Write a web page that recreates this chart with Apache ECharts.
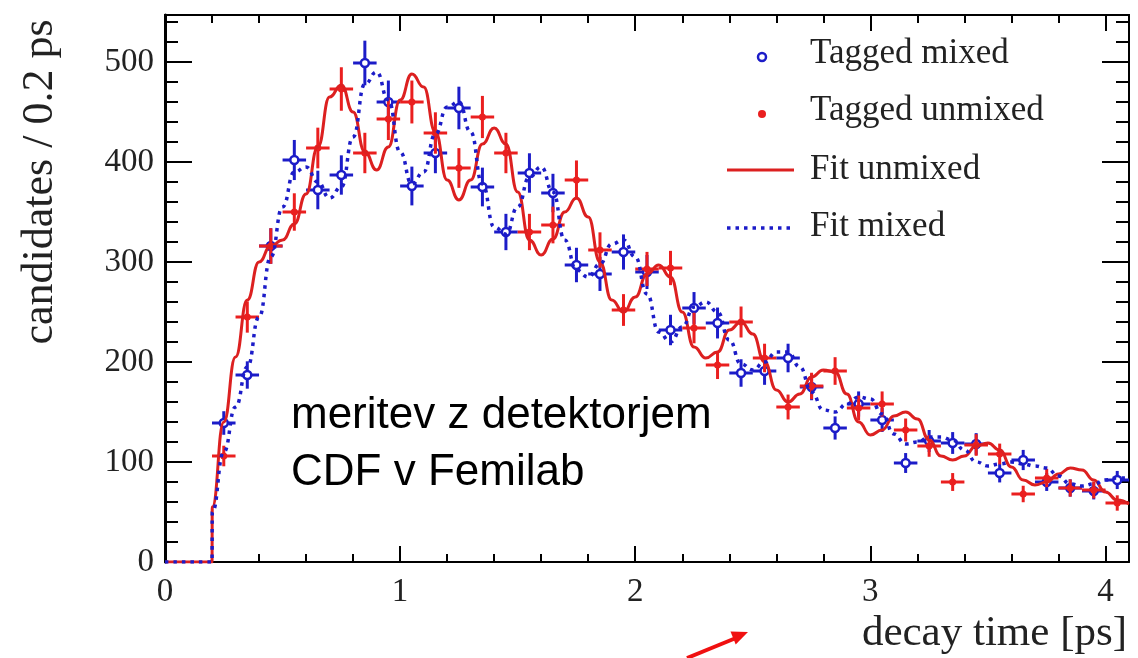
<!DOCTYPE html>
<html>
<head>
<meta charset="utf-8">
<title>decay time</title>
<script src="https://cdn.jsdelivr.net/npm/echarts@6/dist/echarts.min.js"></script>
<style>
  html, body { margin: 0; padding: 0; background: #fff; }
  #chart { width: 1138px; height: 658px; }
</style>
</head>
<body>
<div id="chart"></div>
<script>
// bin centres [ps], bins of 0.1 ps
var binCenters = [0.25, 0.35, 0.45, 0.55, 0.65, 0.75, 0.85, 0.95, 1.05, 1.15,
  1.25, 1.35, 1.45, 1.55, 1.65, 1.75, 1.85, 1.95, 2.05, 2.15,
  2.25, 2.35, 2.45, 2.55, 2.65, 2.75, 2.85, 2.95, 3.05, 3.15,
  3.25, 3.35, 3.45, 3.55, 3.65, 3.75, 3.85, 3.95, 4.05]

// Tagged mixed (blue open points)
var taggedMixed = [139, 187, 316, 402, 372, 387, 499, 460, 376, 409,
  454, 375, 330, 389, 369, 297, 288, 310, 290, 232,
  254, 239, 189, 191, 204, 175, 134, 158, 142, 99,
  121, 119, 118, 89, 102, 80, 74, 71, 82]

// Tagged unmixed (red full points)
var taggedUnmixed = [106, 245, 316, 350, 414, 473, 409, 443, 460, 429,
  394, 445, 409, 330, 337, 382, 312, 252, 293, 294,
  234, 197, 240, 204, 155, 176, 191, 154, 158, 132,
  116, 80, 117, 108, 68, 84, 74, 72, 59]

// fit curves
var fitTime = [0, 0.2, 0.201, 0.25, 0.3, 0.35, 0.4, 0.45, 0.5, 0.55,
  0.6, 0.65, 0.7, 0.75, 0.8, 0.85, 0.9, 0.95, 1.0, 1.05,
  1.1, 1.15, 1.2, 1.25, 1.3, 1.35, 1.4, 1.45, 1.5, 1.55,
  1.6, 1.65, 1.7, 1.75, 1.8, 1.85, 1.9, 1.95, 2.0, 2.05,
  2.1, 2.15, 2.2, 2.25, 2.3, 2.35, 2.4, 2.45, 2.5, 2.55,
  2.6, 2.65, 2.7, 2.75, 2.8, 2.85, 2.9, 2.95, 3.0, 3.05,
  3.1, 3.15, 3.2, 3.25, 3.3, 3.35, 3.4, 3.45, 3.5, 3.55,
  3.6, 3.65, 3.7, 3.75, 3.8, 3.85, 3.9, 3.95, 4.0, 4.05, 4.1]

var fitUnmixed = [0, 0, 55, 140, 205, 262, 300, 316, 322, 338,
  368, 415, 465, 477, 450, 410, 392, 415, 462, 488,
  475, 430, 382, 362, 382, 418, 434, 418, 370, 322,
  307, 323, 350, 364, 345, 300, 262, 250, 265, 288,
  297, 285, 250, 215, 204, 210, 232, 240, 228, 200,
  172, 160, 168, 185, 192, 190, 168, 140, 127, 132,
  146, 150, 143, 122, 106, 102, 106, 116, 119, 112,
  95, 82, 77, 80, 88, 94, 92, 82, 70, 62, 58]

var fitMixed = [0, 0, 50, 110, 155, 195, 245, 305, 355, 390,
  395, 380, 364, 375, 425, 478, 490, 462, 410, 378,
  390, 428, 455, 460, 430, 378, 335, 328, 355, 385,
  395, 370, 322, 292, 285, 298, 318, 322, 305, 268,
  230, 220, 235, 255, 260, 250, 222, 198, 192, 200,
  210, 210, 195, 170, 152, 150, 158, 165, 163, 148,
  128, 118, 120, 125, 125, 122, 112, 100, 96, 98,
  100, 98, 96, 94, 86, 78, 76, 78, 82, 84, 84]

var xMajor = [0, 1, 2, 3, 4]
var yMajor = [0, 100, 200, 300, 400, 500]

var X_MAX = 4.1
var Y_MAX = 547
var BLUE = '#1c1cc8'
var RED = '#ea1f1f'
var SERIF = 'Liberation Serif'

function minorTicks (step, max, majorStep) {
  var out = []
  for (var i = 1; i * step <= max + 1e-9; i++) {
    var v = Math.round(i * step * 1000) / 1000
    if (Math.abs(v / majorStep - Math.round(v / majorStep)) > 1e-6) out.push(v)
  }
  return out
}
var xMinor = minorTicks(0.2, X_MAX, 1)
var yMinor = minorTicks(20, Y_MAX, 100)

function pairs (xs, ys) {
  return xs.map(function (x, i) { return [x, ys[i]] })
}

// cross with sqrt(N) error and half-bin width, plus a dot
function errorCross (color, hollow) {
  return function (params, api) {
    var t = api.value(0), n = api.value(1), e = Math.sqrt(n)
    var c = api.coord([t, n])
    var up = api.coord([t, n + e]), dn = api.coord([t, n - e])
    var l = api.coord([t - 0.05, n]), r = api.coord([t + 0.05, n])
    var st = {stroke: color, lineWidth: 3}
    return {
      type: 'group',
      children: [
        {type: 'line', shape: {x1: c[0], y1: up[1], x2: c[0], y2: dn[1]}, style: st},
        {type: 'line', shape: {x1: l[0], y1: c[1], x2: r[0], y2: c[1]}, style: st},
        {type: 'circle', shape: {cx: c[0], cy: c[1], r: hollow ? 4 : 3.5},
          style: hollow ? {fill: '#fff', stroke: color, lineWidth: 2.5} : {fill: color}}
      ]
    }
  }
}

function xAx (pos, ticks, len, labels) {
  return {
    type: 'value', position: pos, min: 0, max: X_MAX, interval: 1,
    axisLine: {show: !!labels || pos === 'top', onZero: false, lineStyle: {color: '#000', width: 2}},
    axisTick: {show: true, inside: true, length: len, customValues: ticks, lineStyle: {color: '#000', width: 2}},
    axisLabel: labels ? {customValues: xMajor, fontFamily: SERIF, fontSize: 33, color: '#222', margin: 14} : {show: false},
    splitLine: {show: false}
  }
}

function yAx (pos, ticks, len, labels, line) {
  return {
    type: 'value', position: pos, min: 0, max: Y_MAX, interval: 100,
    axisLine: {show: line, onZero: false, lineStyle: {color: '#000', width: pos === 'left' ? 3 : 2}},
    axisTick: {show: true, inside: true, length: len, customValues: ticks, lineStyle: {color: '#000', width: 2}},
    axisLabel: labels ? {customValues: yMajor, fontFamily: SERIF, fontSize: 33, color: '#222', margin: 11} : {show: false},
    splitLine: {show: false}
  }
}

var legendX = 762, legendTextX = 810
var legendRows = [54, 111, 170, 227]

var chart = echarts.init(document.getElementById('chart'))
chart.setOption({
  animation: false,
  backgroundColor: '#fff',
  grid: {left: 165, right: 9, top: 15, bottom: 96, outerBoundsMode: 'none'},
  xAxis: [
    xAx('bottom', xMajor, 16, true),
    xAx('bottom', xMinor, 8, false),
    xAx('top', xMajor, 16, false),
    xAx('top', xMinor, 8, false)
  ],
  yAxis: [
    yAx('left', yMajor, 27, true, true),
    yAx('left', yMinor, 13, false, false),
    yAx('right', yMajor, 27, false, true),
    yAx('right', yMinor, 13, false, false)
  ],
  series: [
    {
      name: 'Tagged mixed', type: 'custom', renderItem: errorCross(BLUE, true),
      encode: {x: 0, y: 1}, data: pairs(binCenters, taggedMixed), z: 2
    },
    {
      name: 'Tagged unmixed', type: 'custom', renderItem: errorCross(RED, false),
      encode: {x: 0, y: 1}, data: pairs(binCenters, taggedUnmixed), z: 3
    },
    {
      name: 'Fit unmixed', type: 'line', data: pairs(fitTime, fitUnmixed),
      showSymbol: false, smooth: 0.5, smoothMonotone: 'x',
      lineStyle: {color: '#dc2020', width: 3}, z: 4
    },
    {
      name: 'Fit mixed', type: 'line', data: pairs(fitTime, fitMixed),
      showSymbol: false, smooth: 0.5, smoothMonotone: 'x',
      lineStyle: {color: BLUE, width: 3.5, type: [3.5, 5]}, z: 5
    }
  ],
  graphic: [
    // axis titles
    {type: 'text', x: 40, y: 182, rotation: Math.PI / 2, z: 10,
      style: {text: 'candidates / 0.2 ps', font: '44px "Liberation Serif"', fill: '#222', align: 'center', verticalAlign: 'middle'}},
    {type: 'text', x: 1127, y: 634, z: 10,
      style: {text: 'decay time [ps]', font: '43px "Liberation Serif"', fill: '#222', align: 'right', verticalAlign: 'middle'}},
    // legend
    {type: 'circle', shape: {cx: legendX, cy: 57, r: 4}, style: {fill: '#fff', stroke: BLUE, lineWidth: 2.5}, z: 10},
    {type: 'circle', shape: {cx: legendX, cy: 114, r: 4}, style: {fill: RED}, z: 10},
    {type: 'line', shape: {x1: 727, y1: 170, x2: 794, y2: 170}, style: {stroke: '#dc2020', lineWidth: 3}, z: 10},
    {type: 'line', shape: {x1: 727, y1: 228, x2: 794, y2: 228}, style: {stroke: BLUE, lineWidth: 3.5, lineDash: [3.5, 5]}, z: 10},
    {type: 'text', x: legendTextX, y: legendRows[0], z: 10, style: {text: 'Tagged mixed', font: '35px "Liberation Serif"', fill: '#222', verticalAlign: 'middle'}},
    {type: 'text', x: legendTextX, y: legendRows[1], z: 10, style: {text: 'Tagged unmixed', font: '35px "Liberation Serif"', fill: '#222', verticalAlign: 'middle'}},
    {type: 'text', x: legendTextX, y: legendRows[2], z: 10, style: {text: 'Fit unmixed', font: '35px "Liberation Serif"', fill: '#222', verticalAlign: 'middle'}},
    {type: 'text', x: legendTextX, y: legendRows[3], z: 10, style: {text: 'Fit mixed', font: '35px "Liberation Serif"', fill: '#222', verticalAlign: 'middle'}},
    // annotation
    {type: 'text', x: 291, y: 416, z: 10, style: {text: 'meritev z detektorjem', font: '44px "Liberation Sans"', fill: '#000', verticalAlign: 'middle'}},
    {type: 'text', x: 291, y: 473, z: 10, style: {text: 'CDF v Femilab', font: '44px "Liberation Sans"', fill: '#000', verticalAlign: 'middle'}},
    // red arrow
    {type: 'line', shape: {x1: 687, y1: 658, x2: 736, y2: 638}, style: {stroke: '#f01010', lineWidth: 4}, z: 10},
    {type: 'polygon', shape: {points: [[748, 632], [730.5, 631.4], [735.7, 644.4]]}, style: {fill: '#f01010'}, z: 10}
  ]
})
</script>
</body>
</html>
